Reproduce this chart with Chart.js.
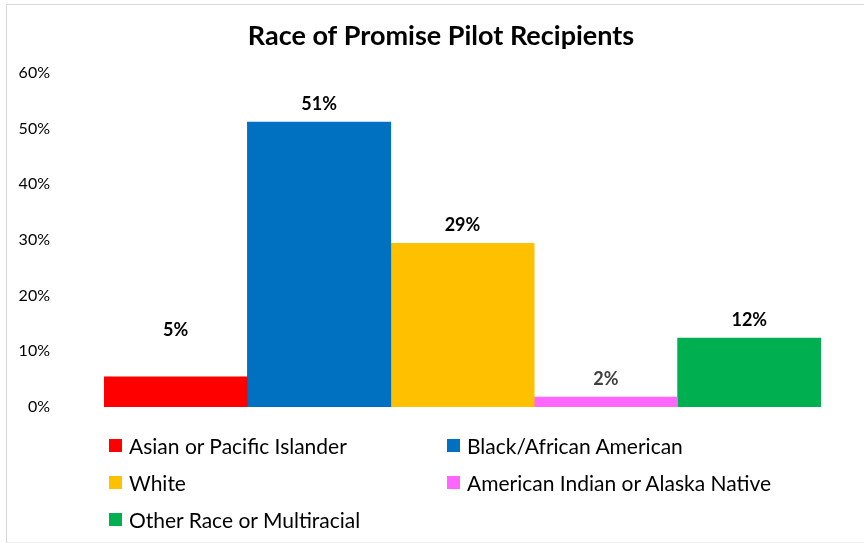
<!DOCTYPE html>
<html>
<head>
<meta charset="utf-8">
<script src="https://cdn.jsdelivr.net/npm/chart.js@4/dist/chart.umd.min.js"></script>
<style>
  html, body { margin: 0; padding: 0; background: #fff; }
  #wrap { position: relative; width: 864px; height: 544px; overflow: hidden; }
  #frame { position: absolute; left: 6px; top: 4px; width: 866px; height: 539px; border: 1px solid #d9d9d9; border-bottom-color: #eeeeee; box-sizing: border-box; pointer-events: none; }
  #legend { position: absolute; left: 0; top: 0; width: 864px; height: 544px; pointer-events: none; font-family: Lato, "Open Sans", sans-serif; font-size: 21px; color: #000; }
  .item { position: absolute; display: flex; align-items: center; white-space: nowrap; }
  .box { width: 13px; height: 13px; margin-right: 7px; }
</style>
</head>
<body>
<div id="wrap">
  <canvas id="raceChart" width="864" height="544"></canvas>
  <div id="legend"></div>
  <div id="frame"></div>
</div>
<script>
// data (percent)
const races = ['Asian or Pacific Islander', 'Black/African American', 'White', 'American Indian or Alaska Native', 'Other Race or Multiracial'];
const shares = [5.4, 51.2, 29.4, 1.8, 12.4];
const yTicks = [0, 10, 20, 30, 40, 50, 60];
const chartTitle = 'Race of Promise Pilot Recipients';

const colors = ['#FF0000', '#0070C0', '#FFC000', '#FF66FF', '#00B050'];
const labelColors = ['#000', '#000', '#000', '#404040', '#000'];
const labelLift = [47, 18, 18, 18, 18];

// value labels above bars + title (title is centred over the picture, not the plot box)
const valueLabels = {
    id: 'valueLabels',
    afterDatasetsDraw(chart) {
        const ctx = chart.ctx;
        ctx.save();
        ctx.textAlign = 'center';
        ctx.textBaseline = 'middle';
        chart.data.datasets.forEach((ds, i) => {
            const bar = chart.getDatasetMeta(i).data[0];
            ctx.font = 'bold 18px Lato, "Open Sans", sans-serif';
            ctx.fillStyle = labelColors[i];
            ctx.fillText(Math.round(ds.data[0]) + '%', bar.x, bar.y - labelLift[i]);
        });
        ctx.font = 'bold 27px Lato, "Open Sans", sans-serif';
        ctx.fillStyle = '#000';
        ctx.fillText(chartTitle, 441, 36);
        ctx.restore();
    }
};

const chart = new Chart(document.getElementById('raceChart').getContext('2d'), {
    type: 'bar',
    data: {
        labels: [''],
        datasets: races.map((r, i) => ({
            label: r,
            data: [shares[i]],
            backgroundColor: colors[i],
            categoryPercentage: 1,
            barPercentage: 1
        }))
    },
    options: {
        responsive: false,
        animation: false,
        layout: { padding: { left: 14, right: 43, top: 73, bottom: 137 } },
        plugins: {
            legend: { display: false },
            tooltip: { enabled: false },
            title: { display: false }
        },
        scales: {
            x: { display: false },
            y: {
                min: 0,
                max: 60,
                afterBuildTicks: s => { s.ticks = yTicks.map(v => ({ value: v })); },
                afterFit: s => { s.width = 90; },
                grid: { display: false, drawTicks: false },
                border: { display: false },
                ticks: {
                    padding: 54,
                    color: '#000',
                    font: { family: 'Lato, "Open Sans", sans-serif', size: 16 },
                    callback: v => v + '%'
                }
            }
        }
    },
    plugins: [valueLabels]
});

// two-column legend under the plot, built from the chart's datasets
const legendPos = [[109, 445], [447, 445], [109, 482], [447, 482], [109, 519]];
const legend = document.getElementById('legend');
chart.data.datasets.forEach((ds, i) => {
    const item = document.createElement('div');
    item.className = 'item';
    item.style.left = legendPos[i][0] + 'px';
    item.style.top = (legendPos[i][1] - 12) + 'px';
    item.style.height = '24px';
    const box = document.createElement('span');
    box.className = 'box';
    box.style.background = ds.backgroundColor;
    const txt = document.createElement('span');
    txt.textContent = ds.label;
    item.appendChild(box);
    item.appendChild(txt);
    legend.appendChild(item);
});
</script>
</body>
</html>
